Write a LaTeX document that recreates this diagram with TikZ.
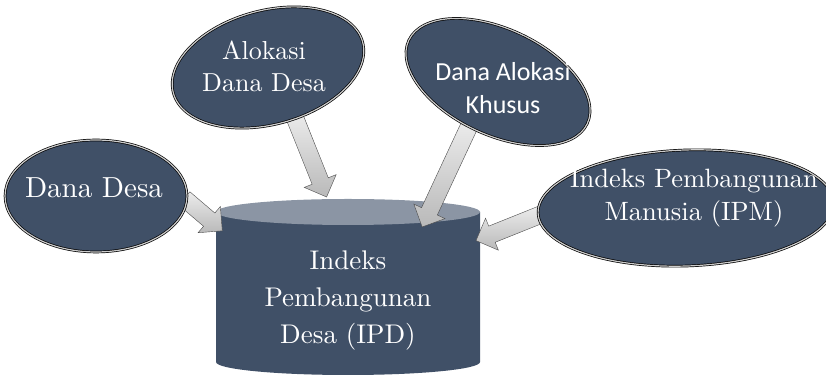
\documentclass[tikz,border=0pt]{standalone}
\usepackage{fontspec}
\setmainfont{lmroman10-regular.otf}
\newfontfamily\kalibri{Carlito}
\usetikzlibrary{shapes.geometric,shapes.arrows,calc,backgrounds}

\definecolor{slate}{RGB}{64,80,103}
\definecolor{slatetop}{RGB}{139,149,164}

\tikzset{
  oval/.style={ellipse, fill=slate, draw=black, line width=.7pt, double=gray!40, double distance=1.2pt, inner sep=0},
  ovaltext/.style={text=white, align=center, inner sep=0},
  blockarrow/.style={single arrow, sloped, allow upside down, inner xsep=0pt, inner ysep=8.5pt,
    minimum width=34pt, single arrow head extend=8.5pt,
    top color=gray!15, bottom color=gray!55, draw=gray!60!black, line width=.4pt}
}

\begin{document}
\begin{tikzpicture}[x=1pt,y=1pt]
  \useasboundingbox (0,0) rectangle (826,379);
  % database
  \begin{scope}[on background layer]
    \fill[slate] (216,167) -- (216,17) arc[start angle=180, end angle=360, x radius=132, y radius=13] -- (480,167) -- cycle;
    \fill[slatetop] (348,167) ellipse [x radius=132, y radius=13];
  \end{scope}
  \node[ovaltext, font=\fontsize{27}{37}\selectfont] (ipd) at (348,78) {Indeks\\Pembangunan\\Desa (IPD)};
  \coordinate (tipa) at (219,151);
  \coordinate (tipb) at (325,186);
  \coordinate (tipc) at (424,156);
  \coordinate (tipd) at (480,140);

  % sources
  \node[oval, minimum width=182pt, minimum height=112pt] (dd) at (96,183) {};
  \node[oval, rotate=15, minimum width=196pt, minimum height=114pt] (ads) at (268,311.5) {};
  \node[oval, rotate=-25, minimum width=197pt, minimum height=106pt] (dak) at (498,297) {};
  \node[oval, rotate=2, minimum width=296pt, minimum height=116pt] (ipm) at (686,171) {};

  \node[ovaltext, font=\fontsize{29}{34}\selectfont] (ddtext) at (94,191.5) {Dana Desa};
  \node[ovaltext, font=\fontsize{26}{32}\selectfont] (adstext) at (264,313) {Alokasi\\Dana Desa};
  \node[ovaltext, font=\kalibri\fontsize{26}{33}\selectfont] (daktext) at (503,291) {Dana Alokasi\\Khusus};
  \node[ovaltext, font=\fontsize{26.5}{33}\selectfont] (ipmtext) at (694,181) {Indeks Pembangunan\\Manusia (IPM)};

  % arrows
  \begin{scope}[on background layer]
    \foreach \s/\t in {dd.-3/tipa, ads.-77/tipb, dak.-98/tipc, ipm.181/tipd}
      \path let \p1=($(\s)!-8pt!(\t)$), \p2=($(\t)-(\p1)$), \n1={veclen(\x2,\y2)} in
        (\p1) -- node[blockarrow, minimum height=\n1] {} (\t);
  \end{scope}
\end{tikzpicture}
\end{document}
